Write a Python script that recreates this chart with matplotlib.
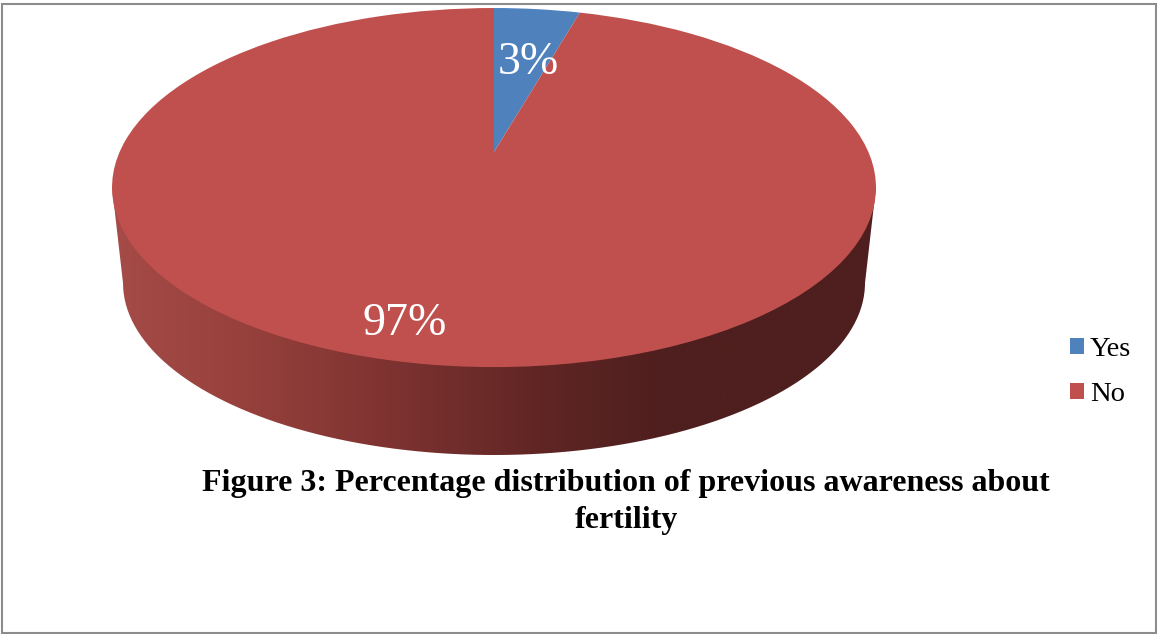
#!/usr/bin/python3

import numpy as np
import matplotlib
matplotlib.use('Agg')
import matplotlib.pyplot as plt
from matplotlib.colors import LinearSegmentedColormap
from matplotlib.patches import Rectangle, PathPatch
from matplotlib.path import Path
from matplotlib.transforms import Transform

categories = ["Yes", "No"]
percent_labels = ["3%", "97%"]
# share of the disc each slice covers in the drawing
slice_shares = [4.4, 95.6]

title = "Figure 3: Percentage distribution of previous awareness about\nfertility"


class Tilt(Transform):
    # unit disc seen from above at an angle, far edge smaller than the near one
    input_dims = 2
    output_dims = 2

    def __init__(self, cx, cy, a, b, k):
        super().__init__()
        self.cx, self.cy, self.a, self.b, self.k = cx, cy, a, b, k

    def transform_non_affine(self, values):
        u, v = values[:, 0], values[:, 1]
        w = 1 + self.k * v
        return np.column_stack((self.cx + self.a * u / w, self.cy - self.b * v / w))


def wall_path():
    # left rim, down to the lower disc, round its front, up to the right rim
    t = np.linspace(np.pi, 0, 200)
    xs = 494 + 371 * np.cos(t)
    ys = 283 + 172 * np.sin(t)
    xs = np.concatenate(([112], xs, [876]))
    ys = np.concatenate(([187], ys, [187]))
    return Path(np.column_stack((xs, ys)))


def main():
    plt.rcParams['font.family'] = ['Liberation Serif', 'DejaVu Serif']
    fig = plt.figure(figsize=(11.57, 6.34), dpi=100)
    ax = fig.add_axes([0, 0, 1, 1])

    wedges, _ = ax.pie(slice_shares, startangle=90, counterclock=False,
                       colors=['#4F81BD', '#C0504D'],
                       wedgeprops={'linewidth': 0})

    # side wall, a shade running left to right
    shade = LinearSegmentedColormap.from_list('wall', [
        (0.0, '#A54B48'), (0.18, '#96403C'), (0.36, '#7E3331'),
        (0.56, '#602624'), (0.72, '#4E1F1E'), (1.0, '#4E1F1E')])
    wall = wall_path()
    gradient = np.linspace(0, 1, 512).reshape(1, -1)
    img = ax.imshow(gradient, cmap=shade, extent=(112, 876, 460, 180),
                    aspect='auto', zorder=0)
    clip = PathPatch(wall, transform=ax.transData, fc='none', ec='none')
    ax.add_patch(clip)
    img.set_clip_path(clip)

    tilt = Tilt(494, 152, 374.4, 172.5, 0.198)
    for w in wedges:
        w.set_transform(tilt + ax.transData)
        w.set_zorder(2)
        w.set_clip_on(False)

    ax.set_aspect('auto')
    ax.set_xlim(0, 1157)
    ax.set_ylim(634, 0)
    ax.axis('off')

    ax.text(528, 63, percent_labels[0], color='white', fontsize=33,
            ha='center', va='center', zorder=3)
    ax.text(405, 324, percent_labels[1], color='white', fontsize=33,
            ha='center', va='center', zorder=3)

    ax.text(626, 502, title, fontsize=23, fontweight='bold', color='black',
            ha='center', va='center', linespacing=1.37, zorder=3)

    ax.legend(wedges, categories, loc='center left', frameon=False,
              bbox_to_anchor=(1070 / 1157, 1 - 372 / 634), fontsize=20.5,
              handlelength=0.49, handleheight=0.49, handletextpad=0.2,
              labelspacing=0.72, borderpad=0, borderaxespad=0)

    ax.add_patch(Rectangle((2, 4), 1154, 629, fc='none', ec='#8c8c8c',
                           lw=1.5, zorder=4, clip_on=False))

    fig.savefig('out.png', dpi=100)


if __name__ == '__main__':
    main()
